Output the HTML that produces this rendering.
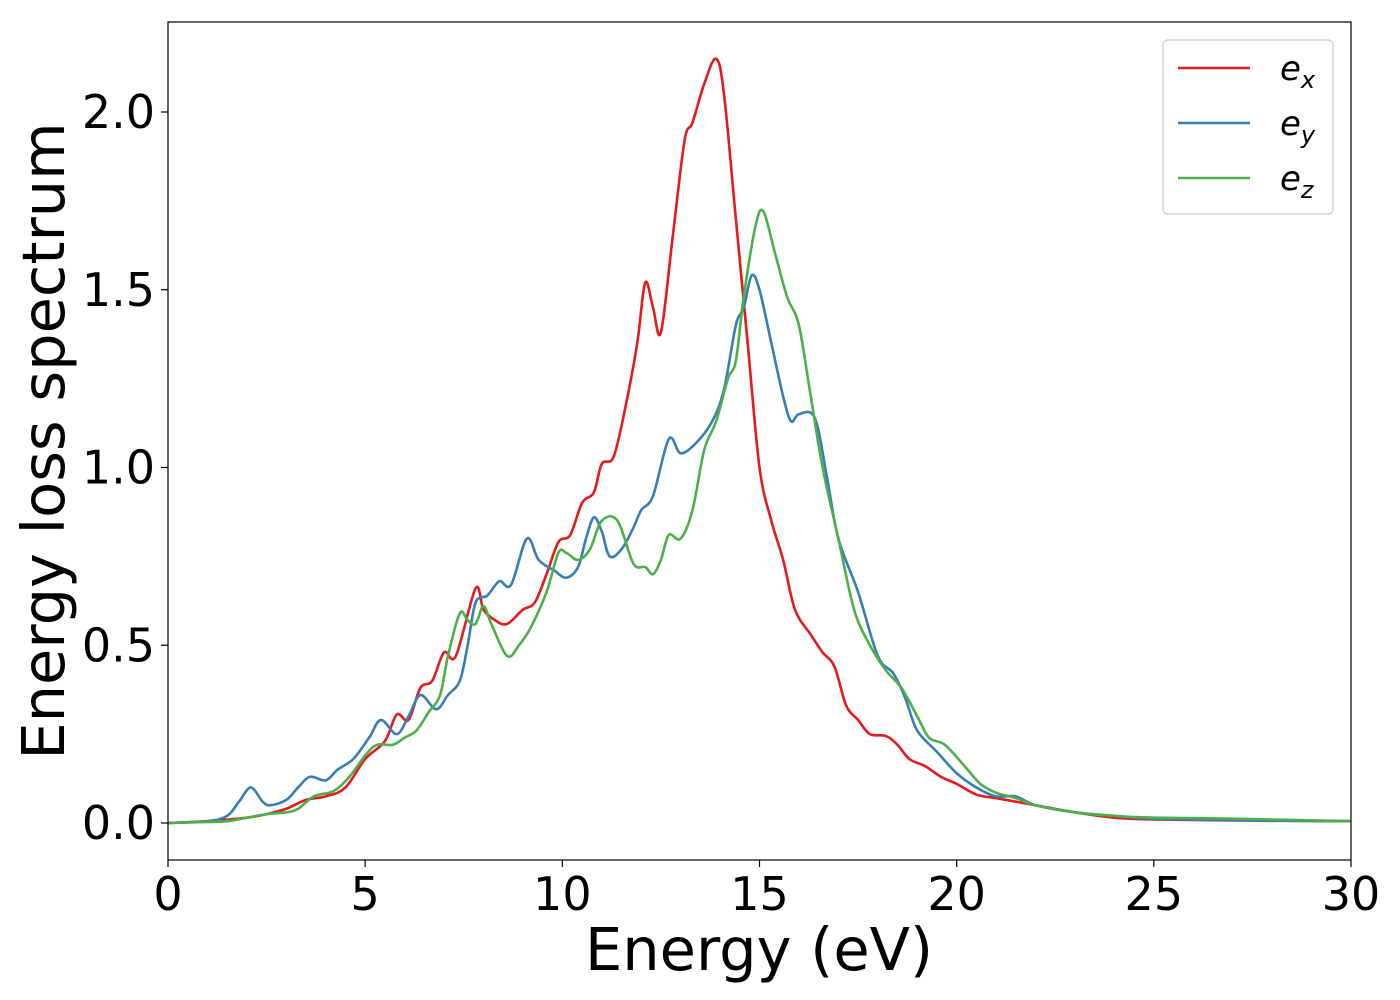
<!DOCTYPE html>
<html><head><meta charset="utf-8"><style>
body{margin:0;background:#fff}
svg{display:block;font-family:"DejaVu Sans","Liberation Sans",sans-serif}
</style></head><body>
<svg id="chart" width="1400" height="1000">
<rect width="1400" height="1000" fill="#fff"/>
<g id="plot"></g>
</svg>
<script>
const xTicks=[0,5,10,15,20,25,30];
const yTicks=[0.0,0.5,1.0,1.5,2.0];
const yTickLabels=["0.0","0.5","1.0","1.5","2.0"];
const exE=[0,1,2,2.5,3,3.5,4,4.5,5,5.5,5.8,6.1,6.4,6.7,7,7.3,7.8,8,8.3,8.6,9,9.3,9.6,9.9,10.2,10.5,10.8,11,11.3,11.6,11.9,12.1,12.3,12.5,12.8,13.1,13.3,13.6,13.9,14.1,14.4,14.7,15,15.3,15.6,15.9,16.3,16.6,16.9,17.2,17.5,17.8,18.2,18.5,18.8,19.2,19.6,20,20.5,21,21.5,22,23,24,25,27,30];
const exV=[0,0.005,0.015,0.025,0.04,0.065,0.075,0.1,0.18,0.23,0.305,0.29,0.38,0.4,0.48,0.47,0.66,0.6,0.57,0.56,0.6,0.62,0.7,0.79,0.81,0.9,0.93,1.01,1.03,1.17,1.35,1.52,1.45,1.38,1.65,1.92,1.97,2.08,2.15,2.05,1.7,1.35,1.0,0.85,0.74,0.6,0.53,0.48,0.44,0.33,0.29,0.25,0.245,0.22,0.18,0.16,0.13,0.11,0.08,0.07,0.06,0.05,0.03,0.015,0.01,0.007,0.005];
const eyE=[0,1,1.5,1.8,2.1,2.4,2.6,3,3.3,3.6,4,4.3,4.7,5.1,5.4,5.8,6.1,6.4,6.8,7.1,7.4,7.6,7.8,8.1,8.4,8.7,9.1,9.4,9.8,10.1,10.4,10.6,10.8,11,11.2,11.5,11.8,12,12.3,12.7,13,13.4,13.8,14.1,14.4,14.6,14.8,15,15.3,15.6,15.8,16,16.4,16.7,17,17.5,18,18.4,18.7,19,19.5,20,20.5,21,21.5,22,23,24,25,27,30];
const eyV=[0,0.005,0.02,0.06,0.1,0.06,0.05,0.065,0.1,0.13,0.12,0.15,0.18,0.24,0.29,0.25,0.3,0.36,0.32,0.36,0.4,0.5,0.62,0.64,0.68,0.67,0.8,0.74,0.71,0.69,0.72,0.8,0.86,0.82,0.75,0.77,0.83,0.88,0.92,1.08,1.04,1.07,1.13,1.22,1.4,1.45,1.54,1.5,1.35,1.2,1.13,1.15,1.14,0.98,0.8,0.65,0.47,0.42,0.35,0.26,0.2,0.14,0.1,0.075,0.075,0.05,0.03,0.02,0.012,0.008,0.005];
const ezE=[0,1,1.5,2,2.5,3,3.3,3.7,4.2,4.6,5,5.3,5.7,6,6.3,6.6,6.9,7.1,7.4,7.6,7.8,8,8.2,8.6,8.9,9.2,9.6,9.9,10.1,10.4,10.7,11,11.4,11.8,12.1,12.3,12.5,12.7,13,13.3,13.6,13.9,14.2,14.4,14.6,14.9,15.1,15.4,15.7,16,16.3,16.6,17,17.4,17.8,18.2,18.6,19,19.3,19.7,20.2,20.6,21,21.5,22,23,24,25,27,30];
const ezV=[0,0.003,0.005,0.015,0.025,0.03,0.04,0.075,0.09,0.13,0.19,0.22,0.22,0.24,0.26,0.31,0.36,0.47,0.59,0.57,0.56,0.61,0.56,0.47,0.5,0.55,0.65,0.76,0.76,0.74,0.77,0.85,0.85,0.73,0.72,0.7,0.74,0.81,0.8,0.88,1.05,1.13,1.25,1.3,1.48,1.68,1.72,1.6,1.48,1.4,1.2,1.0,0.8,0.6,0.5,0.43,0.38,0.3,0.24,0.22,0.16,0.11,0.085,0.07,0.05,0.03,0.02,0.015,0.012,0.005];

const L=168,R=1351,T=22,B=860;
const xS=e=>L+(e-0)*(R-L)/30;
const yS=v=>823-v*355.5;
const NS='http://www.w3.org/2000/svg';
const g=document.getElementById('plot');
function mk(tag,attrs){const el=document.createElementNS(NS,tag);for(const k in attrs)el.setAttribute(k,attrs[k]);return el;}
function pathFor(E,V){
  const p=E.map((e,i)=>[xS(e),yS(V[i])]);
  let d='M'+p[0][0]+','+p[0][1];
  for(let i=0;i<p.length-1;i++){
    const p0=p[i-1]||p[i],p1=p[i],p2=p[i+1],p3=p[i+2]||p2;
    const c1x=p1[0]+(p2[0]-p0[0])/6,c1y=p1[1]+(p2[1]-p0[1])/6;
    const c2x=p2[0]-(p3[0]-p1[0])/6,c2y=p2[1]-(p3[1]-p1[1])/6;
    d+=` C${c1x},${c1y} ${c2x},${c2y} ${p2[0]},${p2[1]}`;
  }
  return d;
}
const clip=mk('clipPath',{id:'cp'});clip.appendChild(mk('rect',{x:L,y:T,width:R-L,height:B-T}));g.appendChild(clip);
const series=[[exE,exV,'#e41a1c','series-ex'],[eyE,eyV,'#377eb8','series-ey'],[ezE,ezV,'#4daf4a','series-ez']];
series.forEach(s=>{
  const p=mk('path',{d:pathFor(s[0],s[1]),fill:'none',stroke:s[2],'stroke-width':2.6,'clip-path':'url(#cp)'});
  
  
  g.appendChild(p);
});
const frame=mk('rect',{x:L,y:T,width:R-L,height:B-T,fill:'none',stroke:'#000','stroke-width':1.2});


g.appendChild(frame);
xTicks.forEach(t=>{
  const x=xS(t);
  g.appendChild(mk('line',{x1:x,x2:x,y1:B,y2:B+7,stroke:'#000','stroke-width':1.2}));
  const tx=mk('text',{x:x,y:910,'font-size':46,'text-anchor':'middle'});tx.textContent=t;
  
  
  g.appendChild(tx);
});
yTicks.forEach((t,i)=>{
  const y=yS(t);
  g.appendChild(mk('line',{x1:L-7,x2:L,y1:y,y2:y,stroke:'#000','stroke-width':1.2}));
  const tx=mk('text',{x:155,y:y+16,'font-size':46,'text-anchor':'end'});tx.textContent=yTickLabels[i];
  
  
  g.appendChild(tx);
});
const xt=mk('text',{x:759,y:970,'font-size':59,'text-anchor':'middle'});xt.textContent='Energy (eV)';


g.appendChild(xt);
const yt=mk('text',{x:0,y:0,'font-size':59,'text-anchor':'middle',transform:'translate(64,441) rotate(-90)'});yt.textContent='Energy loss spectrum';


g.appendChild(yt);
const lg=mk('g',{});


lg.appendChild(mk('rect',{x:1163,y:40,width:170,height:174,rx:5,fill:'#fff',stroke:'#ccc','stroke-width':1.2}));
const subs=['x','y','z'];
series.forEach((s,i)=>{
  const y=68+i*55;
  lg.appendChild(mk('line',{x1:1178,x2:1250,y1:y,y2:y,stroke:s[2],'stroke-width':2.6}));
  const tx=mk('text',{x:1280,y:y+12,'font-size':34,'font-style':'italic'});
  tx.innerHTML='e<tspan font-size="24" dy="8">'+subs[i]+'</tspan>';
  
  
  lg.appendChild(tx);
});
g.appendChild(lg);
</script>
</body></html>
